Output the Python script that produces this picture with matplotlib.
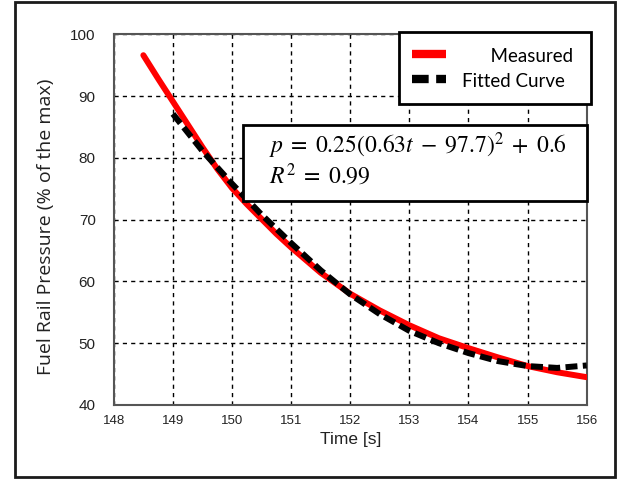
import matplotlib
matplotlib.use("Agg")
import matplotlib.pyplot as plt
from matplotlib.patches import Rectangle
from matplotlib.lines import Line2D

# ---- data ----
t_measured = [148.5, 148.75, 149.0, 149.25, 149.5, 149.75, 150.0, 150.25, 150.5,
              150.75, 151.0, 151.5, 152.0, 152.5, 153.0, 153.5, 154.0, 154.5, 155.0,
              155.5, 156.0]
p_measured = [96.6, 92.8, 89.1, 85.4, 81.7, 78.2, 75.1, 72.5, 70.1,
              67.7, 65.5, 61.4, 58.0, 55.3, 52.9, 50.8, 49.2, 47.7, 46.3,
              45.3, 44.5]

t_fitted = [149.0, 149.5, 150.0, 150.5, 151.0, 151.5, 152.0, 152.5, 153.0,
            153.5, 154.0, 154.5, 155.0, 155.5, 156.0]
p_fitted = [87.1, 81.1, 75.8, 70.8, 66.2, 61.8, 57.9, 54.7, 52.0,
            50.0, 48.4, 47.1, 46.3, 46.0, 46.4]

x_ticks = [148, 149, 150, 151, 152, 153, 154, 155, 156]
y_ticks = [40, 50, 60, 70, 80, 90, 100]
legend_labels = ["Measured", "Fitted Curve"]
equation_lines = [r"$p\;=\;0.25(0.63t\;-\;97.7)^2\;+\;0.6$", r"$R^2\;=\;0.99$"]

plt.rcParams["mathtext.fontset"] = "stix"

fig = plt.figure(figsize=(6.23, 4.80), dpi=100)
W, H = 623, 480
L, R, T, B = 113.8, 586.7, 34.2, 405.0
ax = fig.add_axes([L / W, 1 - B / H, (R - L) / W, (B - T) / H])

# outer border
fig.patches.append(Rectangle((15 / W, 1 - 477 / H), (615 - 15) / W, (477 - 2) / H,
                             transform=fig.transFigure, fill=False,
                             edgecolor="#1a1a1a", linewidth=2.0, zorder=0))

ax.plot(t_measured, p_measured, color="#ff0000", linewidth=4.3,
        solid_capstyle="round", solid_joinstyle="round", zorder=3)
ax.plot(t_fitted, p_fitted, color="black", linewidth=4.3,
        dashes=(2.0, 0.9), zorder=4)

ax.set_xlim(148, 156)
ax.set_ylim(40, 100)
ax.set_xticks(x_ticks)
ax.set_yticks(y_ticks)
ax.set_xticklabels([str(v) for v in x_ticks], fontsize=9.5, family="Liberation Sans",
                   color="#222222")
ax.set_yticklabels([str(v) for v in y_ticks], fontsize=11, family="Liberation Sans",
                   color="#222222")
ax.tick_params(axis="y", length=0, pad=13)
ax.tick_params(axis="x", length=0, pad=7)
ax.grid(True, color="black", linestyle=(0, (3, 3)), linewidth=1.0)
ax.set_axisbelow(True)
for s in ax.spines.values():
    s.set_color("#555555")
    s.set_linewidth(1.5)

ax.set_xlabel("Time [s]", fontsize=12.5, family="Liberation Sans", color="#222222",
              labelpad=4)
ax.set_ylabel("Fuel Rail Pressure (% of the max)", fontsize=14, family="Open Sans",
              color="#222222")
ax.yaxis.set_label_coords(-0.124, 0.481)

# equation box
ax.add_patch(Rectangle((0.273, 0.550), 1.0 - 0.273, 0.755 - 0.550,
                       transform=ax.transAxes, facecolor="white", edgecolor="black",
                       linewidth=2.0, zorder=6, clip_on=False))
ax.text(0.328, 0.597, equation_lines[0] + "\n" + equation_lines[1],
        transform=ax.transAxes, fontsize=17, linespacing=1.05,
        va="baseline", ha="left", zorder=7)

# legend
handles = [Line2D([], [], color="#ff0000", linewidth=6, solid_capstyle="butt"),
           Line2D([], [], color="black", linewidth=6, dashes=(2.0, 0.9),
                  dash_capstyle="butt")]
leg = ax.legend(handles, ["      " + legend_labels[0] + " ", legend_labels[1] + " "],
                loc="upper right", bbox_to_anchor=(1.01, 1.005),
                prop={"family": "Lato", "size": 13.5}, frameon=True, fancybox=False,
                edgecolor="black", framealpha=1.0, borderpad=0.7,
                handlelength=1.85, handleheight=1.35, handletextpad=0.85,
                labelspacing=0.2, borderaxespad=0)
leg.get_frame().set_linewidth(2.0)
leg.set_zorder(8)

fig.savefig("out.png", dpi=100)
